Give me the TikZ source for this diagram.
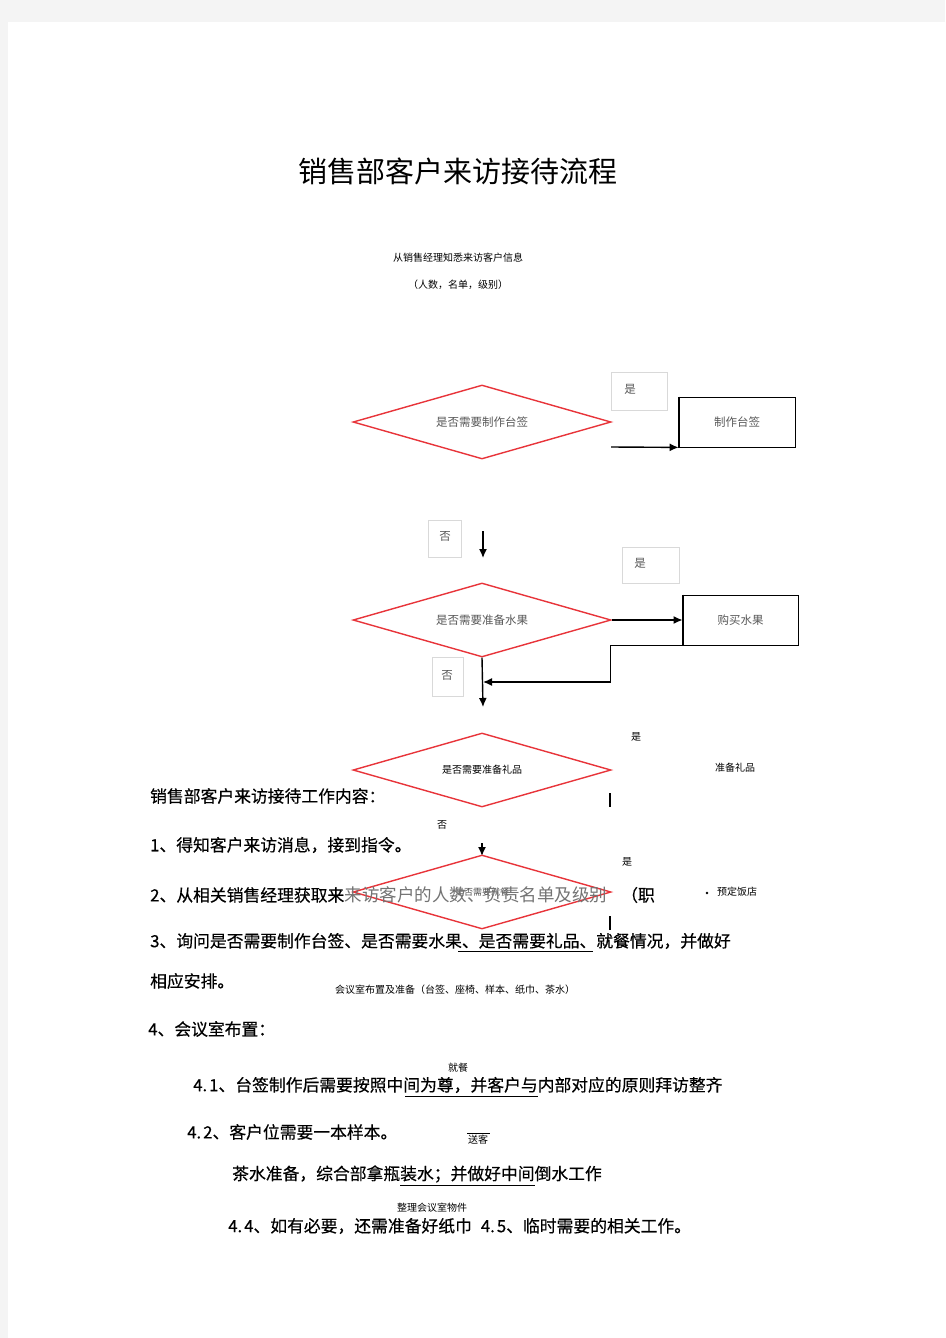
\documentclass[tikz,border=0pt]{standalone}
\usepackage{fontspec}
\setmainfont{Noto Sans CJK SC}
\newfontfamily\bodyfont[FakeBold=0.4]{Noto Sans CJK SC}
\usetikzlibrary{arrows.meta,shapes.geometric,positioning}
\definecolor{flowred}{RGB}{232,52,58}
\definecolor{pagegray}{RGB}{244,244,244}

\begin{document}
\begin{tikzpicture}[x=1pt, y=-1pt, >={Latex[length=9pt,width=8pt]},
	decision/.style={diamond, draw=flowred, line width=1.4pt, inner sep=0pt, aspect=3.5, minimum width=258pt, minimum height=74pt, font=\fontsize{11.5}{12}\selectfont, text=black!65},
	action/.style={rectangle, draw, line width=0.8pt, inner sep=0pt, font=\fontsize{11.5}{12}\selectfont, text=black!65},
	answer/.style={font=\fontsize{11.5}{12}\selectfont, text=black!65, inner sep=0pt},
	tag/.style={font=\fontsize{10}{11}\selectfont, inner sep=0pt},
	body/.style={anchor=west, inner sep=0pt, font=\bodyfont\fontsize{16.8}{18}\selectfont},
	flow/.style={->, line width=1.4pt}]
	%page
	\fill[pagegray] (0,0) rectangle (945,1338);
	\fill[white] (8,22) rectangle (945,1338);
	\useasboundingbox (0,0) rectangle (945,1338);
	
	%title and source
	\node[font=\fontsize{29}{30}\selectfont, inner sep=0pt] (title) at (458,171) {销售部客户来访接待流程};
	\node[tag] (info) at (458,258) {从销售经理知悉来访客户信息};
	\node[tag] (infolist) at (458,285) {（人数，名单，级别）};
	
	%table sign
	\node[decision] (d1) at (482,422) {是否需要制作台签};
	\draw[black!15] (611,372) rectangle (667,410);
	\node[answer] (y1) at (630,389) {是};
	\node[action, minimum width=116pt, minimum height=50pt] (sign) at (737,422) {制作台签};
	\draw[line width=1.8pt] (sign.north west) -- (sign.south west) -- (sign.south east);
	\coordinate (y1out) at (611,447);
	\draw[flow] (y1out) -- (sign.south west);
	
	\draw[black!15] (428,520) rectangle (461,557);
	\node[answer] (n1) at (445,536) {否};
	\coordinate (n1top) at (483,531);
	\coordinate (n1end) at (483,558);
	\draw[flow] (n1top) -- (n1end);
	
	%fruit
	\draw[black!15] (622,547) rectangle (679,583);
	\node[answer] (y2) at (640,563) {是};
	\node[decision] (d2) at (482,620) {是否需要准备水果};
	\node[action, minimum width=115pt, minimum height=50pt] (buy) at (740.5,620) {购买水果};
	\draw[line width=1.8pt] (buy.north west) -- (buy.south west);
	\draw[flow] (d2.east) -- (buy.west);
	\coordinate (merge) at (483,682);
	\draw[flow] (buy.south west) -- ++(-72,0) |- (merge);
	\coordinate (d2out) at (483,707);
	\draw[flow] (d2.south) -- (d2out);
	\draw[black!15] (432,657) rectangle (463,696);
	\node[answer] (n2) at (447,675) {否};
	
	%gifts
	\node[decision, font=\fontsize{10}{11}\selectfont, text=black] (d3) at (482,770) {是否需要准备礼品};
	\node[tag] (y3) at (636,737) {是};
	\node[tag] (gift) at (735,768) {准备礼品};
	\draw[line width=1.2pt] (610,793) -- (610,807);
	\node[tag] (n3) at (442,825) {否};
	
	%meal
	\coordinate (d3out) at (482,843);
	\draw[flow] (d3out) -- (482,856);
	\node[decision, font=\fontsize{9}{10}\selectfont, text=black!70] (d4) at (482,892) {是否需要就餐};
	\node[tag] (y4) at (627,862) {是};
	\fill (707,893) circle (1.3);
	\node[tag] (hotel) at (737,892) {预定饭店};
	\draw[line width=1.2pt] (610,916) -- (610,930);
	
	%later steps
	\node[tag] (room) at (455,990) {会议室布置及准备（台签、座椅、样本、纸巾、茶水）};
	\node[tag] (meal) at (458,1068) {就餐};
	\node[tag] (bye) at (478,1140) {送客};
	\draw (467,1133) -- (490,1133);
	\node[tag] (tidy) at (432,1208) {整理会议室物件};
	
	%work content
	\node[body] (h0) at (150,796) {销售部客户来访接待工作内容：};
	\node[body] (l1) at (150,845) {1、得知客户来访消息，接到指令。};
	\node[body] (l2a) at (150,895) {2、从相关销售经理获取来};
	\node[body, font=\fontsize{17.5}{18}\selectfont, text=black!55] (l2b) at (l2a.east) {来访客户的人数、负责名单及级别};
	\node[body] (l2c) at (621,895) {（职};
	\node[body] (l3) at (150,941) {3、询问是否需要制作台签、是否需要水果、是否需要礼品、就餐情况，并做好};
	\draw (458,951) -- (593,951);
	\node[body] (l3b) at (150,981) {相应安排。};
	\node[body] (l4) at (148,1029) {4、会议室布置：};
	\node[body] (l41) at (193,1085) {4.\kern2pt 1、台签制作后需要按照中间为尊，并客户与内部对应的原则拜访整齐};
	\draw (405,1096) -- (538,1096);
	\node[body] (l42) at (187,1132) {4.\kern2pt 2、客户位需要一本样本。};
	\node[body] (l43) at (232,1174) {茶水准备，综合部拿瓶装水；并做好中间倒水工作};
	\draw (400,1185) -- (535,1185);
	\node[body] (l44) at (228,1226) {4.\kern2pt 4、如有必要，还需准备好纸巾\kern9pt 4.\kern2pt 5、临时需要的相关工作。};
\end{tikzpicture}
\end{document}
